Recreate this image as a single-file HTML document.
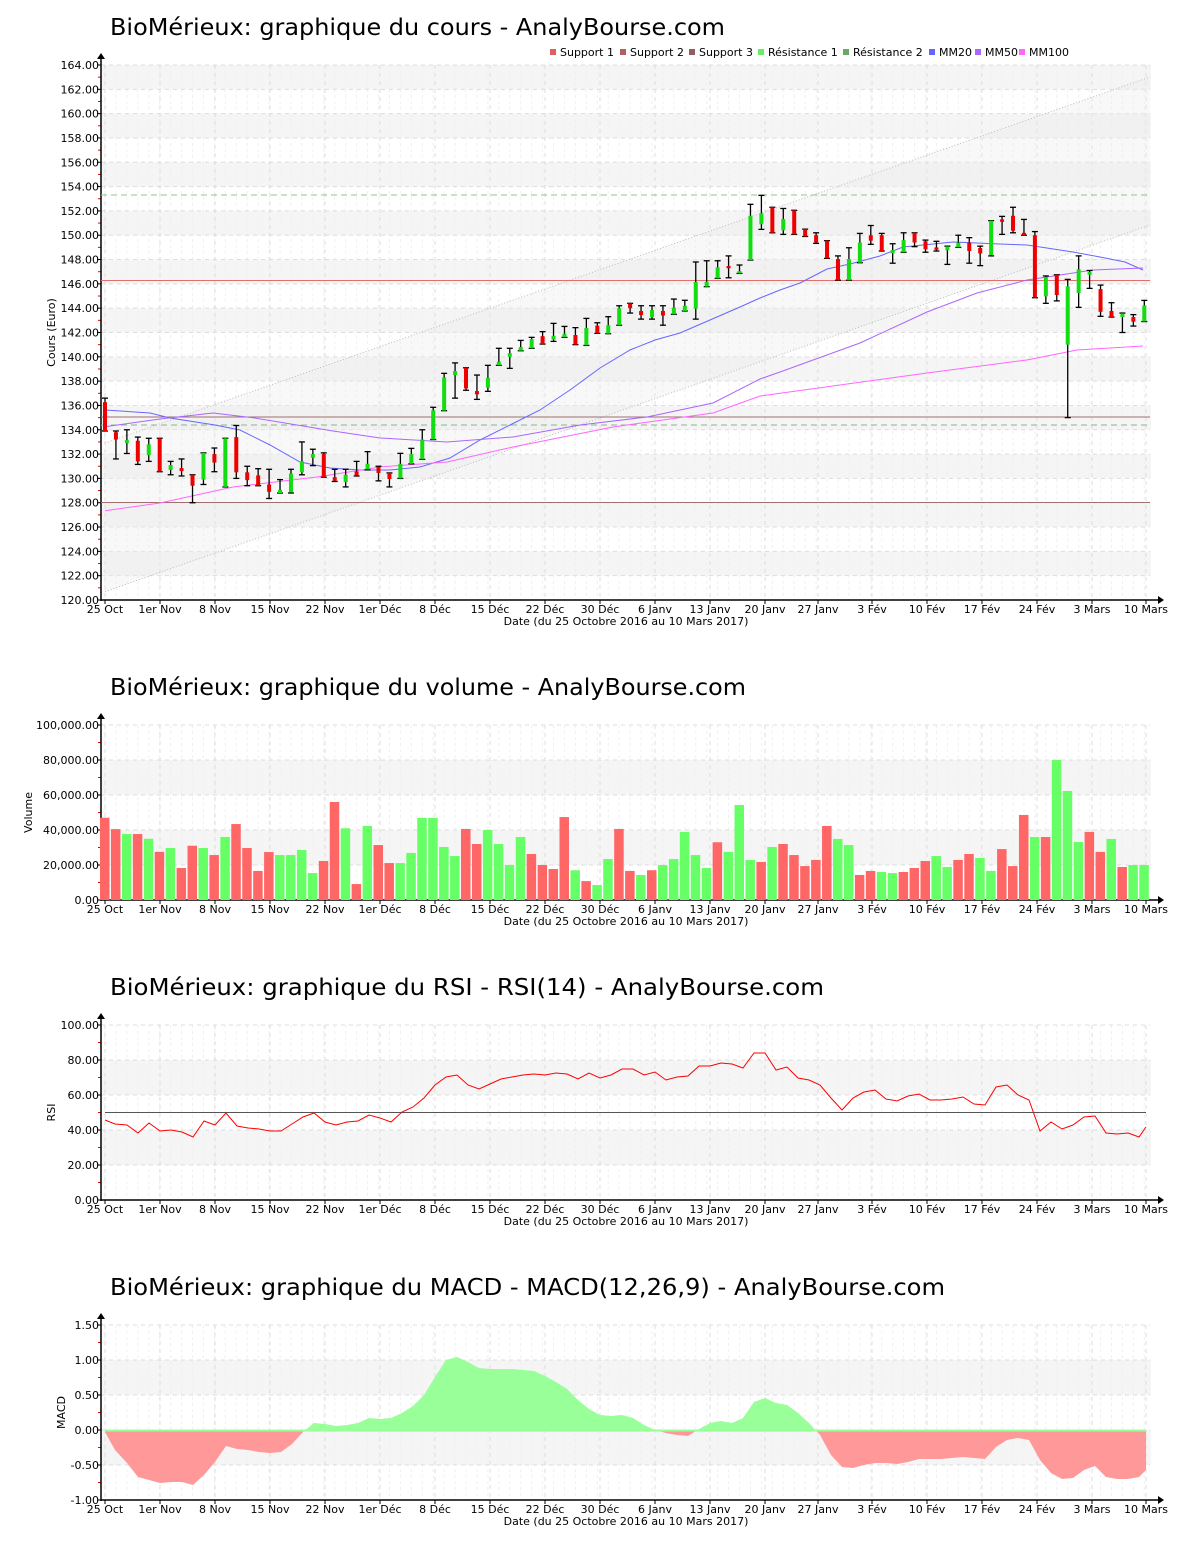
<!DOCTYPE html>
<html><head><meta charset="utf-8"><style>
html,body{margin:0;padding:0;background:#fff;width:1200px;height:1550px;overflow:hidden}
svg text{font-family:"DejaVu Sans","Liberation Sans",sans-serif}
</style></head><body>
<svg id="s" width="1200" height="1550" xmlns="http://www.w3.org/2000/svg"></svg>
<script>
var S=document.getElementById('s');var out='';
function X(i){return 105+i*10.94;}
var dates=[['25 Oct',105],['1er Nov',160],['8 Nov',215],['15 Nov',270],['22 Nov',325],['1er Déc',380],['8 Déc',435],['15 Déc',490],['22 Déc',545],['30 Déc',600],['6 Janv',655],['13 Janv',710],['20 Janv',765],['27 Janv',818],['3 Fév',872],['10 Fév',927],['17 Fév',982],['24 Fév',1037],['3 Mars',1092],['10 Mars',1146]];
function frame(top,bot,vmax,vmin,step,gray,fmt,ylab,title,ty,tl){
  var sc=(bot-top)/(vmax-vmin);function Y(v){return bot-(v-vmin)*sc;}
  out+='<text x="110" y="'+ty+'" font-size="23.5" textLength="'+tl+'" lengthAdjust="spacingAndGlyphs" fill="#000">'+title+'</text>';
  gray.forEach(function(g){out+='<rect x="101" y="'+Y(g[1])+'" width="1050" height="'+(Y(g[0])-Y(g[1]))+'" fill="#f5f5f5"/>';});
  for(var i=0;i<96;i++){out+='<line x1="'+X(i)+'" y1="'+top+'" x2="'+X(i)+'" y2="'+bot+'" stroke="#f0f0f0" stroke-dasharray="3,3"/>';}
  dates.forEach(function(d){out+='<line x1="'+d[1]+'" y1="'+top+'" x2="'+d[1]+'" y2="'+bot+'" stroke="#ddd" stroke-dasharray="4,4"/>';});
  for(var v=vmin;v<=vmax+1e-9;v+=step){var y=Y(v);
    out+='<line x1="101" y1="'+y+'" x2="1150" y2="'+y+'" stroke="#ddd" stroke-dasharray="4,4"/>';
    out+='<line x1="97" y1="'+y+'" x2="101" y2="'+y+'" stroke="#000"/>';
    out+='<text x="99" y="'+(y+4)+'" font-size="11" text-anchor="end" fill="#000">'+fmt(v)+'</text>';
    if(v+step/2<=vmax){var y2=Y(v+step/2);out+='<line x1="98" y1="'+y2+'" x2="101" y2="'+y2+'" stroke="#e00"/>';}
  }
  out+='<line x1="101" y1="'+(top-8)+'" x2="101" y2="'+(bot+1)+'" stroke="#000" stroke-width="1.5"/>';
  out+='<path d="M97,'+(top-6)+' L105,'+(top-6)+' L101,'+(top-12)+'Z" fill="#000"/>';
  out+='<line x1="101" y1="'+bot+'" x2="1158" y2="'+bot+'" stroke="#000" stroke-width="1.5"/>';
  out+='<path d="M1158,'+(bot-4)+' L1158,'+(bot+4)+' L1164,'+bot+'Z" fill="#000"/>';
  dates.forEach(function(d){out+='<line x1="'+d[1]+'" y1="'+bot+'" x2="'+d[1]+'" y2="'+(bot+4)+'" stroke="#000"/>';
    out+='<text x="'+d[1]+'" y="'+(bot+13)+'" font-size="11" text-anchor="middle">'+d[0]+'</text>';});
  out+='<text x="626" y="'+(bot+25)+'" font-size="11" text-anchor="middle">Date (du 25 Octobre 2016 au 10 Mars 2017)</text>';
  var cy=(top+bot)/2;out+='<text transform="translate('+ylab[1]+','+cy+') rotate(-90)" font-size="11" text-anchor="middle">'+ylab[0]+'</text>';
  return Y;
}
function f2(v){return v.toFixed(2);}
function fv(v){return v.toLocaleString('en-US',{minimumFractionDigits:2,maximumFractionDigits:2});}
var g=[];for(var p=122;p<164;p+=4)g.push([p,p+2]);
var Y=frame(65,600,164,120,2,g,f2,['Cours (Euro)',55],'BioMérieux: graphique du cours - AnalyBourse.com',35,615);
out+='<polygon points="105,443 1150,77 1150,225 105,591.7" fill="#ebebeb" opacity="0.35"/>';
out+='<line x1="105" y1="443" x2="1150" y2="77" stroke="#bbb" stroke-dasharray="1,2"/>';
out+='<line x1="105" y1="591.7" x2="1150" y2="225" stroke="#bbb" stroke-dasharray="1,2"/>';
out+='<line x1="101" y1="280.5" x2="1150" y2="280.5" stroke="#e07070"/>';
out+='<line x1="101" y1="417" x2="1150" y2="417" stroke="#a07070"/>';
out+='<line x1="101" y1="502.5" x2="1150" y2="502.5" stroke="#a07070"/>';
out+='<line x1="101" y1="195" x2="1150" y2="195" stroke="#88c888" stroke-dasharray="6,4"/>';
out+='<line x1="101" y1="425" x2="1150" y2="425" stroke="#88b888" stroke-dasharray="6,4"/>';
function pl(pts,c){out+='<polyline points="'+pts+'" fill="none" stroke="'+c+'" stroke-width="1"/>';}
pl('105,410 150,413 170,418 215,425 240,430 270,445 300,462 330,468 360,470 390,470 420,467 450,458 480,440 510,425 540,410 570,390 600,368 630,350 655,340 680,333 710,320 740,307 760,298 780,290 800,283 827,269 850,264 880,256 903,247 953,242 1000,244 1027,245 1073,252 1100,257 1125,262 1143,270','#6666ff');
pl('105,426.7 160,419 213,413 253,417.7 333,431 380,438 447,442 513,437 580,425 647,417 713,403 760,379 780,372 860,343 927,312 977,293 1027,280 1093,270 1143,268','#aa66ff');
pl('105,510.7 160,503 233,487 317,477 380,467 447,462 513,447 613,427 713,413 760,396 927,373 1027,360 1077,350 1143,346','#ff66ff');
var C=[[136.27,133.9,136.6,133.9],[133.8,133.2,133.9,131.6],[132.9,133.15,134,132.05],[133.1,131.4,133.4,131.15],[131.9,132.8,133.3,131.4],[133.3,130.55,133.3,130.55],[130.7,131.1,131.4,130.3],[130.85,130.6,131.6,130.2],[130.3,129.4,130.3,128],[129.9,132.1,132.1,129.5],[132,131.3,132.5,130.55],[129.3,133.3,133.3,129.3],[133.4,130.5,134.35,130],[130.5,129.86,131,129.4],[130.25,129.4,130.8,129.4],[129.5,128.9,130.75,128.35],[128.8,129.05,129.9,128.8],[128.85,130.4,130.75,128.8],[130.5,131.4,133,130.3],[131.7,132,132.4,131.05],[132,130.1,132.1,130.1],[130.1,129.8,130.75,129.75],[129.7,130.3,130.75,129.3],[130.5,130.35,131.4,130.2],[130.75,131.2,132.2,130.7],[130.95,130.45,131,129.8],[130.45,129.95,130.45,129.3],[130,131.2,132.06,130],[131.2,132,132.47,131.2],[131.57,133.2,134,131.57],[133.2,135.6,135.85,133.2],[135.57,138.3,138.64,135.57],[138.5,138.83,139.5,136.6],[139.1,137.4,139.1,137.25],[137.1,137,138.5,136.5],[137.46,138.26,139.3,137.16],[139.3,139.6,140.7,139.3],[140,140.3,140.7,139.05],[140.5,140.8,141.35,140.5],[140.7,141.46,141.6,140.7],[141.7,141.05,142.07,141.05],[141.5,141.65,142.75,141.27],[141.6,141.9,142.5,141.6],[141.8,141,142.4,141],[140.94,142.37,143.16,140.94],[142.56,141.93,142.8,141.93],[141.9,142.6,143.3,141.9],[142.6,144,144.2,142.6],[144.4,144,144.4,143.6],[143.77,143.44,144.2,143.1],[143.27,143.85,144.2,143.1],[143.77,143.4,144.2,142.6],[143.5,144.05,144.75,143.5],[143.77,144.2,144.65,143.77],[143.96,146.15,147.8,143.1],[145.77,146.18,147.9,145.77],[146.45,147.36,147.9,146.45],[147.47,147.28,148.3,146.5],[146.86,147.06,147.55,146.86],[147.96,151.6,152.54,147.96],[150.9,151.8,153.28,150.48],[152.3,150.2,152.3,150.2],[150.4,151.33,152.2,150.07],[152.05,150.07,152.05,150.07],[150.5,149.9,150.5,149.9],[150,149.4,150.2,149.33],[149.55,148.1,149.55,148.1],[148.04,146.3,148.3,146.3],[146.3,148.04,148.97,146.3],[147.74,149.4,150.15,147.74],[150,149.55,150.8,149.25],[150,148.7,150.15,148.7],[148.6,148.7,149.3,147.7],[148.6,149.6,150.2,148.6],[150.2,149.4,150.2,149.06],[149.5,148.84,149.6,148.6],[149,148.8,149.5,148.7],[148.84,149,149.1,147.6],[149,149.4,150,149],[149.4,148.7,149.8,147.7],[148.95,148.5,149.1,147.5],[148.37,151.2,151.2,148.3],[151.3,151.1,151.55,150.07],[151.6,150.37,152.3,150.2],[150.2,150,151.3,150],[150,144.86,150.3,144.86],[144.97,146.56,146.65,144.4],[146.75,145.08,146.75,144.6],[141,145.8,146.37,135],[145.25,147.2,148.3,144.07],[146.75,146.97,147.1,145.63],[145.57,143.7,145.9,143.33],[143.77,143.27,144.45,143.27],[143.27,143.57,143.6,142],[143.27,142.89,143.47,142.53],[142.9,144.23,144.64,142.9]];
C.forEach(function(c,i){var x=X(i);var up=c[1]>=c[0];
  var yh=Y(c[2]),yl=Y(c[3]);
  out+='<line x1="'+x+'" y1="'+yh+'" x2="'+x+'" y2="'+yl+'" stroke="#000" stroke-width="1.3"/>';
  out+='<line x1="'+(x-3)+'" y1="'+yh+'" x2="'+(x+3)+'" y2="'+yh+'" stroke="#000" stroke-width="1.3"/>';
  out+='<line x1="'+(x-3)+'" y1="'+yl+'" x2="'+(x+3)+'" y2="'+yl+'" stroke="#000" stroke-width="1.3"/>';
  var t=Y(Math.max(c[0],c[1])),b=Y(Math.min(c[0],c[1]));if(b-t<2){t-=1;b+=1;}
  out+='<rect x="'+(x-2)+'" y="'+t+'" width="4" height="'+(b-t)+'" fill="'+(up?'#11dd11':'#ee0000')+'"/>';
});
var L=[['Support 1','#e06060',550],['Support 2','#b06060',620],['Support 3','#906060',689],['Résistance 1','#66ee66',758],['Résistance 2','#66aa66',843],['MM20','#6666ff',929],['MM50','#aa66ff',975],['MM100','#ff66ff',1019]];
L.forEach(function(l){out+='<rect x="'+l[2]+'" y="49" width="6" height="6" fill="'+l[1]+'"/><text x="'+(l[2]+10)+'" y="56" font-size="11">'+l[0]+'</text>';});
var Yv=frame(725,900,100000,0,20000,[[60000,80000],[20000,40000]],fv,['Volume',32],'BioMérieux: graphique du volume - AnalyBourse.com',695,636);
var V=[47000,40500,37700,37700,35000,27500,29700,18300,31000,29700,25700,36000,43400,29700,16600,27400,25700,25700,28600,15400,22300,56000,41000,9100,42300,31400,21100,21100,26900,46900,46900,30300,25100,40600,32000,40000,32000,20000,36000,26300,20000,17700,47400,17000,10800,8600,23400,40600,16600,14300,17000,20000,23400,38900,25700,18300,33000,27500,54300,22900,21700,30300,32000,25700,19400,22900,42300,34900,31400,14300,16600,16000,15400,16000,18300,22300,25100,18900,22900,26300,24000,16600,29100,19400,48600,36000,36000,80000,62300,33100,38900,27500,34900,18900,20000,20000];
var vc=[0,0,1,0,1,0,1,0,0,1,0,1,0,0,0,0,1,1,1,1,0,0,1,0,1,0,0,1,1,1,1,1,1,0,0,1,1,1,1,0,0,0,0,1,0,1,1,0,0,1,0,1,1,1,1,1,0,1,1,1,0,1,0,0,0,0,0,1,1,0,0,1,1,0,0,0,1,1,0,0,1,1,0,0,0,1,0,1,1,1,0,0,1,0,1,1];
V.forEach(function(v,i){var x=X(i)-5;var y=Yv(v);out+='<rect x="'+x+'" y="'+y+'" width="9.5" height="'+(900-y)+'" fill="'+(vc[i]?'#66ff66':'#ff6666')+'"/>';});
frame(1025,1200,100,0,20,[[60,80],[20,40]],f2,['RSI',55],'BioMérieux: graphique du RSI - RSI(14) - AnalyBourse.com',995,714);
out+='<line x1="105" y1="1112.5" x2="1146" y2="1112.5" stroke="#555"/>';
pl('105,1120 115,1124 127,1125 138,1133 149,1123 160,1131 171,1130 182,1132 193,1137 204,1121 215,1125 226,1113 237,1126 248,1128 259,1129 270,1131 281,1131 292,1124 303,1117 314,1113 325,1122 336,1125 347,1122 358,1121 369,1115 380,1118 391,1122 402,1112 413,1107 424,1098 435,1085 446,1077 457,1075 468,1085 479,1089 490,1084 501,1079 512,1077 523,1075 534,1074 545,1075 556,1073 567,1074 578,1079 589,1073 600,1078 611,1075 622,1069 633,1069 644,1075 655,1072 666,1080 677,1077 688,1076 699,1066 710,1066 721,1063 732,1064 743,1068 754,1053 765,1053 776,1070 787,1067 798,1078 809,1080 820,1085 831,1098 842,1110 853,1098 864,1092 875,1090 886,1099 897,1101 908,1096 919,1094 930,1100 941,1100 952,1099 963,1097 974,1104 985,1105 996,1087 1007,1085 1018,1095 1029,1100 1040,1131 1051,1122 1062,1129 1073,1125 1084,1117 1095,1116 1106,1133 1117,1134 1128,1133 1139,1137 1146,1127','#ff0000');
frame(1325,1500,1.5,-1.0,0.5,[[0.5,1.0],[-0.5,0]],f2,['MACD',65],'BioMérieux: graphique du MACD - MACD(12,26,9) - AnalyBourse.com',1295,835);
var M='105,1432 115,1450 127,1463 138,1477 149,1480 160,1483 171,1482 182,1482 193,1485 204,1475 215,1462 226,1446 237,1449 248,1450 259,1452 270,1453 281,1452 292,1444 303,1432 314,1423 325,1424 336,1426 347,1425 358,1423 369,1418 380,1419 391,1418 402,1413 413,1406 424,1395 435,1377 446,1360 457,1357 468,1362 479,1368 490,1369 501,1369 512,1369 523,1370 534,1371 545,1376 556,1382 567,1389 578,1400 589,1409 600,1415 611,1416 622,1415 633,1418 644,1425 655,1430 666,1433 677,1435 688,1436 699,1429 710,1423 721,1421 732,1423 743,1418 754,1402 765,1398 776,1403 787,1405 798,1413 809,1423 820,1435 831,1455 842,1467 853,1468 864,1465 875,1463 886,1463 897,1464 908,1462 919,1459 930,1459 941,1459 952,1458 963,1457 974,1458 985,1459 996,1447 1007,1440 1018,1438 1029,1440 1040,1460 1051,1473 1062,1479 1073,1478 1084,1470 1095,1466 1106,1477 1117,1479 1128,1479 1139,1477 1146,1470';
out+='<defs><clipPath id="ca"><rect x="100" y="1300" width="1060" height="130.5"/></clipPath><clipPath id="cb"><rect x="100" y="1430.5" width="1060" height="70"/></clipPath></defs>';
var poly='105,1430.5 '+M+' 1146,1430.5';
out+='<polygon points="'+poly+'" fill="#99ff99" clip-path="url(#ca)"/>';
out+='<polygon points="'+poly+'" fill="#ff9999" clip-path="url(#cb)"/>';
out+='<line x1="105" y1="1430.5" x2="1146" y2="1430.5" stroke="#99ff99" stroke-width="2"/>';
S.innerHTML=out;
</script>
</body></html>
